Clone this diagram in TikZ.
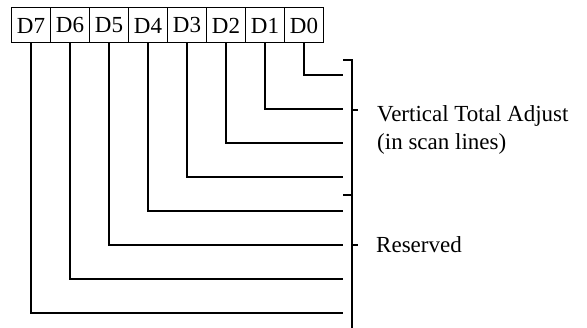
\documentclass[tikz,border=0pt]{standalone}
\usepackage{fontspec}
\setmainfont{Liberation Serif}
\usetikzlibrary{positioning}

\tikzset{
  bitbox/.style={draw, line width=1pt, minimum width=39pt, minimum height=35pt,
    inner sep=0pt, outer sep=0pt, font=\fontsize{23}{28}\selectfont},
  wire/.style={line width=1.8pt},
  lbl/.style={inner sep=0pt, font=\fontsize{23}{28}\selectfont},
}

\begin{document}
\begin{tikzpicture}[x=1pt, y=-1pt]
\useasboundingbox (0,0) rectangle (587,328);

% register bits
\node[bitbox] (d7) at (31,25.5) {D7};
\node[bitbox, right=0pt of d7] (d6) {D6};
\node[bitbox, right=0pt of d6] (d5) {D5};
\node[bitbox, right=0pt of d5] (d4) {D4};
\node[bitbox, right=0pt of d4] (d3) {D3};
\node[bitbox, right=0pt of d3] (d2) {D2};
\node[bitbox, right=0pt of d2] (d1) {D1};
\node[bitbox, right=0pt of d1] (d0) {D0};

% wire ends
\foreach \i in {0,...,7}
  \coordinate (e\i) at (343,75+34*\i);
\foreach \i in {0,...,7}
  \draw[wire] (d\i.south) |- (e\i);

% brackets
\draw[wire] (343,60) -- (352,60) -- (352,195) -- (343,195);
\draw[wire] (352,195) -- (352,328);
\draw[wire] (352,110) -- (358,110);
\draw[wire] (352,245) -- (358,245);

\node[lbl, anchor=base west] (vta) at (377,122) {Vertical Total Adjust};
\node[lbl, anchor=base west] (scan) at (377,150) {(in scan lines)};
\node[lbl, anchor=base west] (rsv) at (376,253) {Reserved};
\end{tikzpicture}
\end{document}
